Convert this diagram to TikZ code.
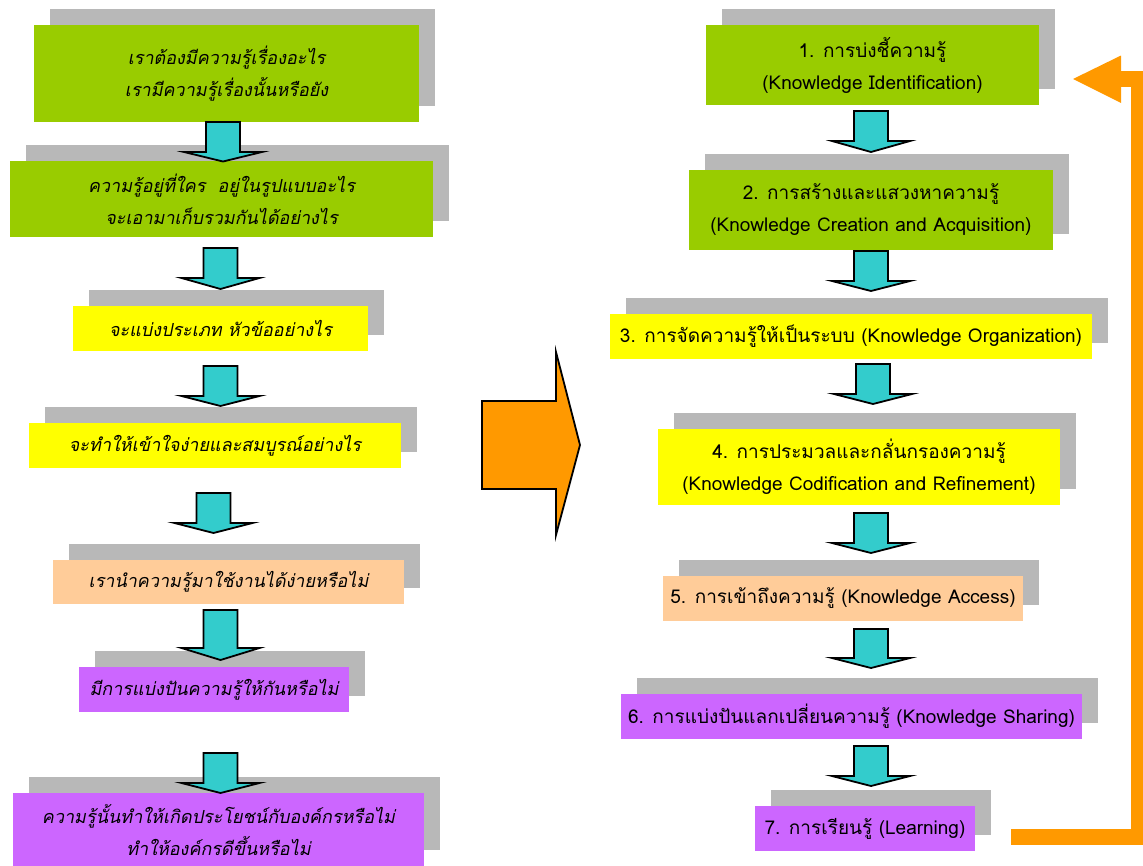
\documentclass[tikz,border=0pt]{standalone}
\usepackage{fontspec}
\newfontfamily\thai[Script=Thai]{Loma}
\newfontfamily\thaisl[Script=Thai,FakeSlant=0.2]{Loma}
\definecolor{kgreen}{HTML}{99CC00}
\definecolor{kyellow}{HTML}{FFFF00}
\definecolor{kpeach}{HTML}{FFCC99}
\definecolor{kpurple}{HTML}{CC66FF}
\definecolor{kshadow}{HTML}{B8B8B8}
\definecolor{kcyan}{HTML}{33CCCC}
\definecolor{korange}{HTML}{FF9900}
\tikzset{
  shadowbox/.style={fill=kshadow, draw=none},
  lbox/.style={inner sep=0pt, align=center, font=\thaisl\fontsize{18}{32}\selectfont},
  rbox/.style={inner sep=0pt, align=center, font=\thai\fontsize{19}{32}\selectfont},
  cyanarr/.style={fill=kcyan, draw=black, line width=1.8pt, line join=miter},
  bigarr/.style={fill=korange, draw=black, line width=1.8pt, line join=miter},
  loopline/.style={draw=korange, line width=16pt, line join=miter},
}
% name, x1, y1, x2, y2, style, text
\newcommand\kbox[7]{%
  \fill[shadowbox] ({#2+16},{#3-16}) rectangle ({#4+16},{#5-16});
  \node[#6, minimum width={(#4-#2)*1pt}, minimum height={(#5-#3)*1pt}] (#1) at ({(#2+#4)/2},{(#3+#5)/2}) {#7};
}
% centre x, top y, shaft length, head length
\newcommand\karr[4]{%
  \draw[cyanarr] ({#1-17},{#2}) -- ({#1+17},{#2}) -- ({#1+17},{#2+#3}) -- ({#1+39},{#2+#3})
    -- ({#1},{#2+#3+#4}) -- ({#1-39},{#2+#3}) -- ({#1-17},{#2+#3}) -- cycle;
}
\begin{document}
\begin{tikzpicture}[x=1pt,y=-1pt]
\useasboundingbox (0,0) rectangle (1143,865);
\clip (0,0) rectangle (1143,865);
% left column
\kbox{L1}{34}{25}{419}{122}{lbox, fill=kgreen}{เราต้องมีความรู้เรื่องอะไร\\เรามีความรู้เรื่องนั้นหรือยัง}
\kbox{L2}{10}{161}{433}{237}{lbox, fill=kgreen}{ความรู้อยู่ที่ใคร\ \ อยู่ในรูปแบบอะไร\\จะเอามาเก็บรวมกันได้อย่างไร}
\kbox{L3}{73}{306}{368}{351}{lbox, fill=kyellow}{จะแบ่งประเภท หัวข้ออย่างไร}
\kbox{L4}{29}{423}{401}{468}{lbox, fill=kyellow}{จะทำให้เข้าใจง่ายและสมบูรณ์อย่างไร}
\kbox{L5}{53}{560}{404}{604}{lbox, fill=kpeach}{เรานำความรู้มาใช้งานได้ง่ายหรือไม่}
\kbox{L6}{79}{667}{349}{712}{lbox, fill=kpurple}{มีการแบ่งปันความรู้ให้กันหรือไม่}
\kbox{L7}{13}{793}{424}{866}{lbox, fill=kpurple}{ความรู้นั้นทำให้เกิดประโยชน์กับองค์กรหรือไม่\\ทำให้องค์กรดีขึ้นหรือไม่}
\karr{223}{122}{30}{9.5}
\karr{220.5}{248}{30}{11}
\karr{220.5}{366}{30}{10}
\karr{213.5}{493}{30}{10}
\karr{220.5}{610}{38}{12}
\karr{220.5}{753}{30}{10}
% right column
\kbox{R1}{706}{25}{1039}{105}{rbox, fill=kgreen}{1. การบ่งชี้ความรู้\\(Knowledge Identification)}
\kbox{R2}{689}{170}{1053}{250}{rbox, fill=kgreen}{2. การสร้างและแสวงหาความรู้\\(Knowledge Creation and Acquisition)}
\kbox{R3}{610}{314}{1092}{359}{rbox, fill=kyellow}{3. การจัดความรู้ให้เป็นระบบ (Knowledge Organization)}
\kbox{R4}{658}{429}{1060}{505}{rbox, fill=kyellow}{4. การประมวลและกลั่นกรองความรู้\\(Knowledge Codification and Refinement)}
\kbox{R5}{663}{576}{1023}{621}{rbox, fill=kpeach}{5. การเข้าถึงความรู้ (Knowledge Access)}
\kbox{R6}{621}{694}{1082}{739}{rbox, fill=kpurple}{6. การแบ่งปันแลกเปลี่ยนความรู้ (Knowledge Sharing)}
\kbox{R7}{755}{806}{975}{851}{rbox, fill=kpurple}{7. การเรียนรู้ (Learning)}
\karr{871}{111}{30}{11}
\karr{871}{251}{30}{10}
\karr{873}{364}{30}{10}
\karr{871}{513}{30}{10}
\karr{871}{629}{29}{10}
\karr{871}{746}{30}{10}
% big orange arrow between columns
\draw[bigarr] (482,401) -- (556,401) -- (556,352) -- (580,445) -- (556,535) -- (556,489) -- (482,489) -- cycle;
% loop back arrow
\coordinate (loopstart) at (1011,837);
\coordinate (loopend) at (1073,79);
\draw[loopline] (loopstart) -- (1139,837) -- (1139,79) -- (1119,79);
\fill[korange] (1121,55.5) -- (loopend) -- (1121,103) -- cycle;
\end{tikzpicture}
\end{document}
